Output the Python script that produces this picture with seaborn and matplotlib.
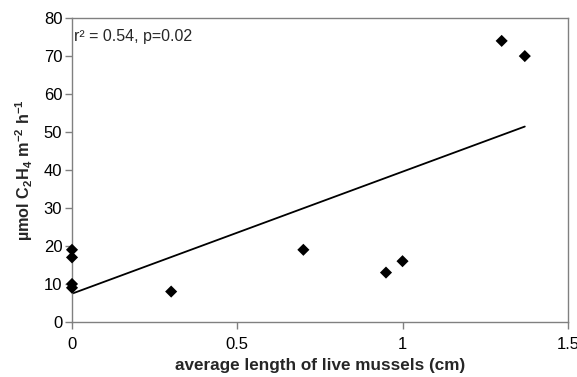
import matplotlib
matplotlib.use("Agg")
import matplotlib.pyplot as plt
import numpy as np
import pandas as pd
import seaborn as sns

# mussel length vs ethylene production
length_cm = [0, 0, 0, 0, 0.3, 0.7, 0.95, 1.0, 1.3, 1.37]
c2h4 = [19, 17, 10, 9, 8, 19, 13, 16, 74, 70]
xticks = [0, 0.5, 1, 1.5]
xtick_labels = ["0", "0.5", "1", "1.5"]
yticks = [0, 10, 20, 30, 40, 50, 60, 70, 80]

data = pd.DataFrame({"length": length_cm, "rate": c2h4})

sns.set_style("white")
plt.rcParams["font.family"] = ["Liberation Sans", "DejaVu Sans"]
plt.rcParams["mathtext.fontset"] = "custom"
plt.rcParams["mathtext.rm"] = "Liberation Sans:bold"
plt.rcParams["mathtext.default"] = "rm"

fig = plt.figure(figsize=(5.77, 3.77), dpi=100)
ax = fig.add_axes([0.1248, 0.146, 0.8592, 0.806])

sns.regplot(data=data, x="length", y="rate", ax=ax, ci=None, truncate=True,
            marker="D", color="black",
            scatter_kws={"s": 38, "edgecolor": "none", "zorder": 3,
                         "alpha": 1, "clip_on": False},
            line_kws={"color": "black", "lw": 1.3})

ax.set_xlim(0, 1.5)
ax.set_ylim(0, 80)
ax.set_xticks(xticks)
ax.set_xticklabels(xtick_labels)
ax.set_yticks(yticks)

for s in ax.spines.values():
    s.set_color("#808080")
    s.set_linewidth(1)
ax.tick_params(axis="both", colors="#808080", labelcolor="black", labelsize=12,
               length=5, width=1, direction="out")
ax.tick_params(axis="x", pad=6)
ax.tick_params(axis="y", pad=2)
ax.xaxis.set_ticks_position("bottom")
ax.yaxis.set_ticks_position("left")

ax.set_xlabel("average length of live mussels (cm)", fontsize=12.3, fontweight="bold",
              labelpad=4)
ax.set_ylabel("\u00b5mol C$_2$H$_4$ m$^{-2}$ h$^{-1}$", fontsize=11.7, fontweight="bold",
              labelpad=6)

ax.text(0.004, 0.965, "r\u00b2 = 0.54, p=0.02", transform=ax.transAxes,
        fontsize=11.5, va="top", ha="left")

fig.savefig("out.png", dpi=100)
